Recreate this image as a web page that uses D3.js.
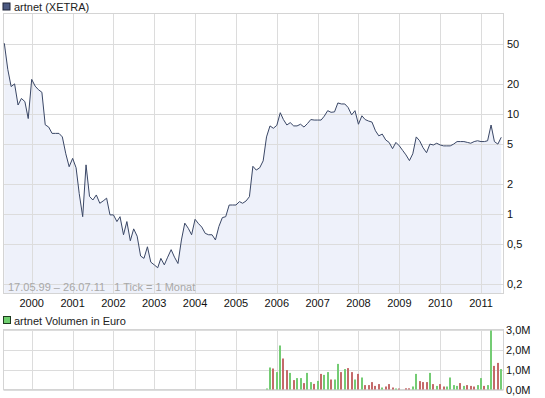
<!DOCTYPE html>
<html>
<head>
<meta charset="utf-8">
<script src="https://cdn.jsdelivr.net/npm/d3@7"></script>
<style>
  body { margin: 0; background: #fff; }
  text { font-family: "Liberation Sans", Arial, sans-serif; font-size: 11px; }
</style>
</head>
<body>
<div id="chart"></div>
<script>
// monthly closes, artnet (XETRA), 05/1999 .. 07/2011
var startMonth = new Date(1999, 4, 1);
var prices = [
  51, 28, 18.8, 20, 12.3, 14.3, 13.3, 9.0, 22.2, 19, 17.5, 16.5,
  7.8, 7.4, 6.4, 6.4, 6.4, 5.9, 4.0, 2.97, 3.6, 2.9, 1.6, 0.94,
  3.1, 1.5, 1.38, 1.55, 1.28, 1.35, 1.44, 0.98, 0.98, 0.84, 0.94, 0.62,
  0.84, 0.54, 0.71, 0.6, 0.38, 0.36, 0.47, 0.33, 0.31, 0.29, 0.36, 0.31,
  0.37, 0.44, 0.37, 0.32, 0.55, 0.81, 0.72, 0.62, 0.885, 0.8, 0.74, 0.64,
  0.62, 0.62, 0.55, 0.75, 0.92, 0.94, 1.23, 1.23, 1.23, 1.33, 1.28, 1.35,
  1.49, 3.0, 2.75, 2.9, 3.4, 5.9, 7.6, 7.2, 7.7, 10.3, 8.8, 7.76,
  8.2, 7.6, 7.6, 7.9, 7.4, 8.0, 8.8, 8.7, 8.7, 8.7, 9.5, 10.8,
  10.4, 10.5, 12.9, 12.6, 12.6, 11.6, 9.8, 10.8, 7.9, 9.6, 8.8, 8.5,
  8.3, 6.8, 6.05, 6.3, 5.5, 5.2, 4.5, 5.2, 4.8, 4.3, 3.9, 3.42,
  4.0, 5.9, 5.4, 4.6, 4.1, 5.0, 4.9, 5.1, 4.9, 4.8, 4.8, 4.8,
  5.0, 5.3, 5.3, 5.3, 5.2, 5.1, 5.3, 5.4, 5.3, 5.3, 5.4, 7.76,
  5.3, 5.0, 5.85
];

// volume in million euro, from 10/2005
var volStartMonth = new Date(2005, 9, 1);
var volumes = [
  0.05, 1.1, 1.05, 0.87, 2.2, 1.55, 0.97, 0.83, 0.47, 0.57, 0.57, 0.32,
  0.83, 0.37, 0.28, 0.43, 0.78, 0.73, 0.87, 0.5, 0.5, 1.28, 0.87, 1.02,
  1.07, 0.87, 0.5, 0.78, 0.6, 0.22, 0.22, 0.37, 0.18, 0.27, 0.1, 0.15,
  0.27, 0.1, 0.05, 0.05, 0, 0.06, 0.06, 0.15, 0.78, 0.42, 0.37, 0.37,
  0.83, 0.27, 0.18, 0.27, 0.15, 0.15, 0.6, 0.22, 0.18, 0.32, 0.18, 0.22,
  0.18, 0.15, 0.22, 0.57, 0.18, 0.22, 2.95, 1.18, 1.33, 1.02
];
// 1 = green (up month), 0 = red
var volUp = [
  1, 1, 0, 1, 1, 0, 0, 1, 0, 1, 1, 0,
  1, 1, 0, 1, 0, 1, 1, 0, 1, 1, 0, 1,
  0, 0, 1, 0, 1, 0, 0, 0, 0, 0, 1, 0,
  0, 0, 1, 0, 0, 0, 0, 1, 1, 0, 0, 0,
  1, 0, 1, 0, 0, 1, 1, 1, 1, 0, 1, 0,
  0, 0, 1, 1, 0, 1, 1, 0, 0, 1
];

var priceTicks = [50, 20, 10, 5, 2, 1, 0.5, 0.2];
var priceTickLabels = ["50", "20", "10", "5", "2", "1", "0,5", "0,2"];
var volTicks = [0, 1, 2, 3];
var volTickLabels = ["0,0M", "1,0M", "2,0M", "3,0M"];
var years = d3.range(2000, 2012);

var W = 545, H = 398;
var left = 3.5, right = 503.5;
var mTop = 13.5, mBot = 293.5;
var vTop = 329.5, vBot = 389.5;

var svg = d3.select("#chart").append("svg")
    .attr("width", W).attr("height", H);

var x = d3.scaleTime()
    .domain([new Date(2000, 0, 1), new Date(2011, 0, 1)])
    .range([31.7, 481]);
var y = d3.scaleLog().domain([0.1, 100]).range([314, 14]);
var yv = d3.scaleLinear().domain([0, 3]).range([vBot, vTop]);

var data = prices.map(function(p, i) {
  return { date: d3.timeMonth.offset(startMonth, i), v: p };
});
var vdata = volumes.map(function(v, i) {
  return { date: d3.timeMonth.offset(volStartMonth, i), v: v, up: volUp[i] };
});

// ---- price panel
svg.append("rect").attr("x", 3).attr("y", 3).attr("width", 7).attr("height", 7)
   .attr("fill", "#4c5a82").attr("stroke", "#1e2438");
svg.append("text").attr("x", 14).attr("y", 11).attr("fill", "#222").text("artnet (XETRA)");

var area = d3.area().x(d => x(d.date)).y0(mBot).y1(d => y(d.v));
svg.append("path").datum(data).attr("d", area).attr("fill", "#eef1fa");

var g = svg.append("g");
g.selectAll(".hg").data(priceTicks).enter().append("line")
  .attr("x1", left).attr("x2", right)
  .attr("y1", d => Math.round(y(d)) + 0.5).attr("y2", d => Math.round(y(d)) + 0.5)
  .attr("stroke", "#dcdcdc");
g.selectAll(".vg").data(years).enter().append("line")
  .attr("x1", d => Math.round(x(new Date(d, 0, 1))) + 0.5)
  .attr("x2", d => Math.round(x(new Date(d, 0, 1))) + 0.5)
  .attr("y1", mTop).attr("y2", mBot)
  .attr("stroke", "#dcdcdc");
svg.append("rect").attr("x", left).attr("y", mTop)
  .attr("width", right - left).attr("height", mBot - mTop)
  .attr("fill", "none").attr("stroke", "#d4d4d4");

svg.append("path").datum(data)
  .attr("d", d3.line().x(d => x(d.date)).y(d => y(d.v)))
  .attr("fill", "none").attr("stroke", "#3a4766").attr("stroke-width", 1);

svg.append("text").attr("x", 8).attr("y", 290.5).attr("fill", "#a8a8a8")
  .attr("xml:space", "preserve")
  .text("17.05.99 \u2013 26.07.11   1 Tick = 1 Monat");

svg.selectAll(".pl").data(priceTicks).enter().append("text")
  .attr("x", 507).attr("y", d => y(d) + 4)
  .attr("fill", "#111")
  .text((d, i) => priceTickLabels[i]);

svg.selectAll(".yl").data(years).enter().append("text")
  .attr("x", d => x(new Date(d, 0, 1))).attr("y", 307)
  .attr("text-anchor", "middle").attr("fill", "#111")
  .text(d => d);

// ---- volume panel
svg.append("rect").attr("x", 3.5).attr("y", 316.5).attr("width", 7).attr("height", 7)
   .attr("fill", "#6fcf6f").attr("stroke", "#1e3a1e");
svg.append("text").attr("x", 14).attr("y", 325).attr("fill", "#222").text("artnet Volumen in Euro");

svg.selectAll(".vh").data(volTicks).enter().append("line")
  .attr("x1", left).attr("x2", right)
  .attr("y1", d => Math.round(yv(d)) + 0.5).attr("y2", d => Math.round(yv(d)) + 0.5)
  .attr("stroke", "#dcdcdc");
svg.selectAll(".vv").data(years).enter().append("line")
  .attr("x1", d => Math.round(x(new Date(d, 0, 1))) + 0.5)
  .attr("x2", d => Math.round(x(new Date(d, 0, 1))) + 0.5)
  .attr("y1", vTop).attr("y2", vBot)
  .attr("stroke", "#dcdcdc");
svg.append("rect").attr("x", left).attr("y", vTop)
  .attr("width", right - left).attr("height", vBot - vTop)
  .attr("fill", "none").attr("stroke", "#d4d4d4");

svg.selectAll(".bar").data(vdata).enter().append("rect")
  .attr("x", d => Math.round(x(d.date)) - 1)
  .attr("width", 2)
  .attr("y", d => yv(d.v))
  .attr("height", d => yv(0) - yv(d.v))
  .attr("fill", d => d.up ? "#74cc74" : "#c46a6a");

svg.selectAll(".vl").data(volTicks).enter().append("text")
  .attr("x", 506).attr("y", d => yv(d) + 4)
  .attr("fill", "#111")
  .text((d, i) => volTickLabels[i]);
</script>
</body>
</html>
